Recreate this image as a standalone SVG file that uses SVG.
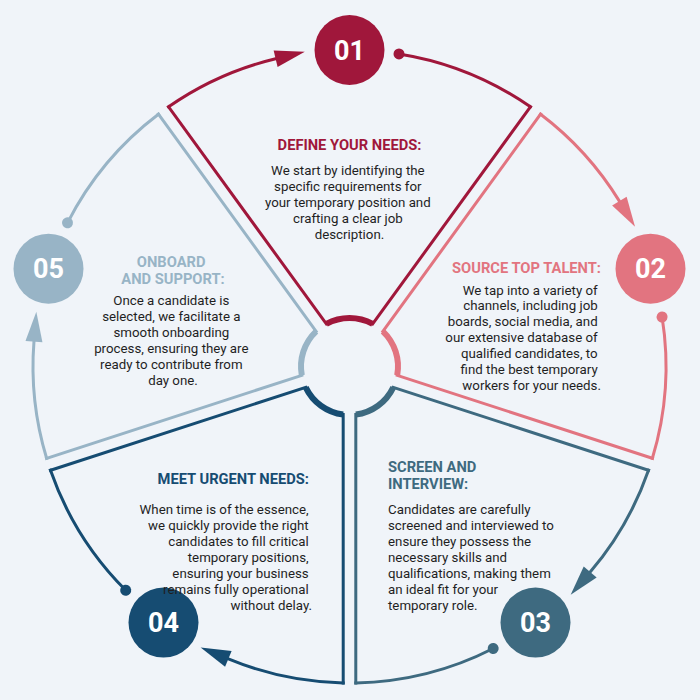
<svg xmlns="http://www.w3.org/2000/svg" xmlns:xlink="http://www.w3.org/1999/xlink" width="700" height="700" viewBox="0 0 700 700">
  <defs>
    <style>
      .s1{color:#A0173B}
      .s2{color:#E27480}
      .s3{color:#3E6A80}
      .s4{color:#164C72}
      .s5{color:#98B4C6}
      .ln{fill:none;stroke:currentColor;stroke-width:3;stroke-linecap:square;stroke-linejoin:miter}
      .in{fill:none;stroke:currentColor;stroke-width:6}
      .fl{fill:currentColor;stroke:none}
      .num{font-family:Roboto,"Liberation Sans",sans-serif;font-weight:700;font-size:27px;fill:#ffffff;text-anchor:middle}
      .hd{font-family:Roboto,"Liberation Sans",sans-serif;font-weight:700;font-size:14.7px;fill:currentColor}
      .bd{font-family:Roboto,"Liberation Sans",sans-serif;font-size:13.3px;fill:#1f1f1f}
    </style>
    <path id="arcA" d="M -180.91 -259.69 A 316.5 316.5 0 0 1 -73.88 -307.77"/>
    <polygon id="head" points="-44.71,-314.77 -75.86,-316.04 -71.90,-299.50"/>
    <path id="arcB" d="M 49.51 -312.60 A 316.5 316.5 0 0 1 180.91 -259.69"/>
    <circle id="dot" cx="49.51" cy="-312.60" r="5.5"/>
    <path id="edges" d="M -180.91 -259.69 L -23.16 -42.61 M 23.16 -42.61 L 180.91 -259.69"/>
    <path id="inner" d="M 23.16 -42.61 A 48.5 48.5 0 0 0 -23.16 -42.61"/>
  </defs>
  <rect x="0" y="0" width="700" height="700" fill="#F0F4F9"/>

  <g id="connectors">
    <g class="s1" transform="translate(349.5 366.5) rotate(0)">
      <use href="#arcA" class="ln"/><use href="#head" class="fl"/>
      <use href="#arcB" class="ln"/><use href="#dot" class="fl"/>
    </g>
    <g class="s2" transform="translate(349.5 366.5) rotate(72)">
      <use href="#arcA" class="ln"/><use href="#head" class="fl"/>
      <use href="#arcB" class="ln"/><use href="#dot" class="fl"/>
    </g>
    <g class="s3" transform="translate(349.5 366.5) rotate(144)">
      <use href="#arcA" class="ln"/><use href="#head" class="fl"/>
      <use href="#arcB" class="ln"/><use href="#dot" class="fl"/>
    </g>
    <g class="s4" transform="translate(349.5 366.5) rotate(216)">
      <use href="#arcA" class="ln"/><use href="#head" class="fl"/>
      <use href="#arcB" class="ln"/><use href="#dot" class="fl"/>
    </g>
    <g class="s5" transform="translate(349.5 366.5) rotate(288)">
      <use href="#arcA" class="ln"/><use href="#head" class="fl"/>
      <use href="#arcB" class="ln"/><use href="#dot" class="fl"/>
    </g>
  </g>

  <g id="node1" class="s1">
    <g transform="translate(349.5 366.5) rotate(0)">
      <use href="#edges" class="ln"/><use href="#inner" class="in"/>
    </g>
    <circle cx="349.5" cy="50" r="35" class="fl"/>
    <text x="349.5" y="59.6" class="num">01</text>
    <text x="349.5" y="150" class="hd" text-anchor="middle">DEFINE YOUR NEEDS:</text>
    <text class="bd" text-anchor="middle">
      <tspan x="349.5" y="175">We start by identifying the</tspan>
      <tspan x="349.5" y="191">specific requirements for</tspan>
      <tspan x="349.5" y="207">your temporary position and</tspan>
      <tspan x="349.5" y="223">crafting a clear job</tspan>
      <tspan x="349.5" y="239">description.</tspan>
    </text>
  </g>

  <g id="node2" class="s2">
    <g transform="translate(349.5 366.5) rotate(72)">
      <use href="#edges" class="ln"/><use href="#inner" class="in"/>
    </g>
    <circle cx="650.5" cy="268.7" r="35" class="fl"/>
    <text x="650.5" y="278.3" class="num">02</text>
    <text x="601" y="273" class="hd" text-anchor="end">SOURCE TOP TALENT:</text>
    <text class="bd" text-anchor="end">
      <tspan x="601" y="294.5">We tap into a variety of</tspan>
      <tspan x="601" y="310.4">channels, including job</tspan>
      <tspan x="601" y="326.3">boards, social media, and</tspan>
      <tspan x="601" y="342.2">our extensive database of</tspan>
      <tspan x="601" y="358.1">qualified candidates, to</tspan>
      <tspan x="601" y="374">find the best temporary</tspan>
      <tspan x="601" y="389.9">workers for your needs.</tspan>
    </text>
  </g>

  <g id="node3" class="s3">
    <g transform="translate(349.5 366.5) rotate(144)">
      <use href="#edges" class="ln"/><use href="#inner" class="in"/>
    </g>
    <circle cx="535.5" cy="622.6" r="35" class="fl"/>
    <text x="535.5" y="632.2" class="num">03</text>
    <text class="hd">
      <tspan x="388" y="472">SCREEN AND</tspan>
      <tspan x="388" y="489">INTERVIEW:</tspan>
    </text>
    <text class="bd">
      <tspan x="388" y="514">Candidates are carefully</tspan>
      <tspan x="388" y="530">screened and interviewed to</tspan>
      <tspan x="388" y="546">ensure they possess the</tspan>
      <tspan x="388" y="562">necessary skills and</tspan>
      <tspan x="388" y="578">qualifications, making them</tspan>
      <tspan x="388" y="594">an ideal fit for your</tspan>
      <tspan x="388" y="610">temporary role.</tspan>
    </text>
  </g>

  <g id="node4" class="s4">
    <g transform="translate(349.5 366.5) rotate(216)">
      <use href="#edges" class="ln"/><use href="#inner" class="in"/>
    </g>
    <circle cx="163.5" cy="622.6" r="35" class="fl"/>
    <text x="163.5" y="632.2" class="num">04</text>
    <text x="309" y="484" class="hd" text-anchor="end">MEET URGENT NEEDS:</text>
    <text class="bd" text-anchor="end">
      <tspan x="312" y="514">When time is of the essence,</tspan>
      <tspan x="312" y="530">we quickly provide the right</tspan>
      <tspan x="312" y="546">candidates to fill critical</tspan>
      <tspan x="312" y="562">temporary positions,</tspan>
      <tspan x="312" y="578">ensuring your business</tspan>
      <tspan x="312" y="594">remains fully operational</tspan>
      <tspan x="312" y="610">without delay.</tspan>
    </text>
  </g>

  <g id="node5" class="s5">
    <g transform="translate(349.5 366.5) rotate(288)">
      <use href="#edges" class="ln"/><use href="#inner" class="in"/>
    </g>
    <circle cx="48.5" cy="268.7" r="35" class="fl"/>
    <text x="48.5" y="278.3" class="num">05</text>
    <text class="hd" text-anchor="middle">
      <tspan x="173" y="267">ONBOARD</tspan>
      <tspan x="173" y="284">AND SUPPORT:</tspan>
    </text>
    <text class="bd" text-anchor="middle">
      <tspan x="173" y="305">Once a candidate is</tspan>
      <tspan x="173" y="321">selected, we facilitate a</tspan>
      <tspan x="173" y="337">smooth onboarding</tspan>
      <tspan x="173" y="353">process, ensuring they are</tspan>
      <tspan x="173" y="369">ready to contribute from</tspan>
      <tspan x="173" y="385">day one.</tspan>
    </text>
  </g>
</svg>
